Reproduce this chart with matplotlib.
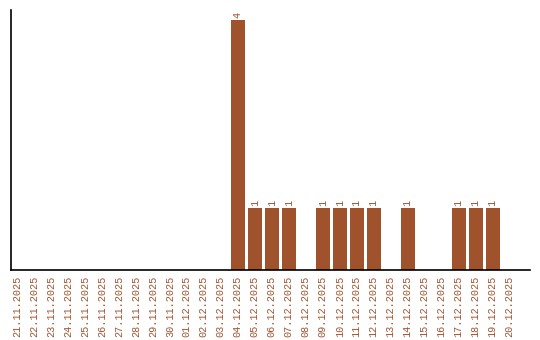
import matplotlib
matplotlib.use("Agg")
import matplotlib.pyplot as plt

# Daily counts, 21.11.2025 - 20.12.2025
dates = ["21.11.2025", "22.11.2025", "23.11.2025", "24.11.2025", "25.11.2025",
         "26.11.2025", "27.11.2025", "28.11.2025", "29.11.2025", "30.11.2025",
         "01.12.2025", "02.12.2025", "03.12.2025", "04.12.2025", "05.12.2025",
         "06.12.2025", "07.12.2025", "08.12.2025", "09.12.2025", "10.12.2025",
         "11.12.2025", "12.12.2025", "13.12.2025", "14.12.2025", "15.12.2025",
         "16.12.2025", "17.12.2025", "18.12.2025", "19.12.2025", "20.12.2025"]
counts = [0, 0, 0, 0, 0, 0, 0, 0, 0, 0,
          0, 0, 0, 4, 1, 1, 1, 0, 1, 1,
          1, 1, 0, 1, 0, 0, 1, 1, 1, 0]

color = "#a0522d"
font = "Liberation Mono"

fig = plt.figure(figsize=(5.4, 3.4), dpi=100)
ax = fig.add_axes([11/540, 70/340, 519/540, 260/340])

x = list(range(len(dates)))
ax.bar(x, counts, width=0.82, color=color)

# value labels above the bars
for xi, c in zip(x, counts):
    if c > 0:
        ax.text(xi, c + 0.03, str(c), rotation=90, ha="center", va="bottom",
                color=color, fontsize=7.3, family=font)

ax.set_xlim(-0.35, 30.2)
ax.set_ylim(0, 4.16)
ax.set_xticks(x)
ax.set_xticklabels(dates, rotation=90, color=color, fontsize=7.3, family=font)
ax.tick_params(axis="x", length=0, pad=4)
ax.set_yticks([])
ax.spines["top"].set_visible(False)
ax.spines["right"].set_visible(False)
ax.spines["left"].set_linewidth(1.2)
ax.spines["bottom"].set_linewidth(1.2)

fig.savefig("out.png", dpi=100)
